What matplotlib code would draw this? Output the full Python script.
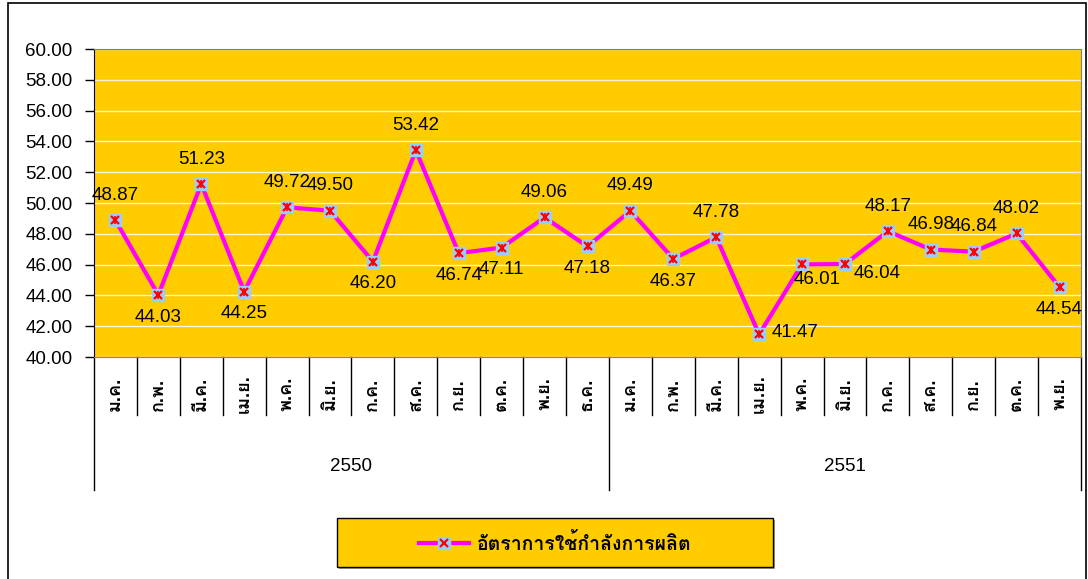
import matplotlib
matplotlib.use("Agg")
import matplotlib.pyplot as plt
from matplotlib import font_manager
from matplotlib.ft2font import FT2Font
from matplotlib.lines import Line2D
from matplotlib.patches import Rectangle
import matplotlib.transforms as mtransforms

# data
months_2550 = ['ม.ค.', 'ก.พ.', 'มี.ค.', 'เม.ย.', 'พ.ค.', 'มิ.ย.', 'ก.ค.', 'ส.ค.', 'ก.ย.', 'ต.ค.', 'พ.ย.', 'ธ.ค.']
months_2551 = ['ม.ค.', 'ก.พ.', 'มี.ค.', 'เม.ย.', 'พ.ค.', 'มิ.ย.', 'ก.ค.', 'ส.ค.', 'ก.ย.', 'ต.ค.', 'พ.ย.']
years = ['2550', '2551']
values_2550 = [48.87, 44.03, 51.23, 44.25, 49.72, 49.50, 46.20, 53.42, 46.74, 47.11, 49.06, 47.18]
values_2551 = [49.49, 46.37, 47.78, 41.47, 46.01, 46.04, 48.17, 46.98, 46.84, 48.02, 44.54]
series_name = 'อัตราการใช้กำลังการผลิต'

# where each data label sits (like Excel label positions)
label_pos = ['a', 'b', 'a', 'b', 'a', 'a', 'b', 'a', 'b', 'b', 'a', 'b',
             'a', 'b', 'a', 'r', 'br', 'r2', 'a', 'a', 'a', 'a', 'b']

# find a font that can draw Thai
thai_font = None
for f in font_manager.fontManager.ttflist:
    try:
        if 0x0E2D in FT2Font(f.fname).get_charmap():
            thai_font = f.name
            break
    except Exception:
        pass
families = ['Liberation Sans', 'DejaVu Sans']
if thai_font:
    families = ['Liberation Sans', thai_font, 'DejaVu Sans']
plt.rcParams['font.family'] = families

months = months_2550 + months_2551
values = values_2550 + values_2551
x = list(range(len(values)))

W, H = 1088, 579
fig = plt.figure(figsize=(W / 100, H / 100), dpi=100)
ax = fig.add_axes([94 / W, 1 - 357 / H, (1081 - 94) / W, (357 - 49) / H])
ax.set_facecolor('#FFCC00')

# outer chart border
fig.patches.append(Rectangle((8 / W, -0.01), (1086 - 8) / W, 1 - 3 / H + 0.01,
                             transform=fig.transFigure, fill=False, edgecolor='black', lw=1.2))

ax.set_xlim(-0.5, len(values) - 0.5)
ax.set_ylim(40, 60)
ax.set_yticks([40 + 2 * i for i in range(11)])
ax.yaxis.set_major_formatter(matplotlib.ticker.FormatStrFormatter('%.2f'))
ax.tick_params(axis='y', length=6.5, width=1, pad=9, labelsize=13.5, colors='black')
ax.set_xticks([])
ax.grid(axis='y', color='#FFF4D6', lw=1)
ax.set_axisbelow(True)
for s in ['top', 'right']:
    ax.spines[s].set_color('#808080')
ax.spines['left'].set_color('black')
ax.spines['bottom'].set_color('#B08800')

ax.plot(x, values, color='#FF00FF', lw=3, marker='s', ms=9, mfc='#99CCFF', mec='#99CCFF', zorder=3)
ax.plot(x, values, ls='none', marker='x', ms=5.5, mew=1.6, color='#FF0000', zorder=4)
ax.plot(x, values, ls='none', marker='|', ms=5.5, mew=1.2, color='#FF0000', zorder=4)

offsets = {'a': ((0, 18), 'center'), 'b': ((0, -16), 'center'), 'r': ((9, 1), 'left'),
           'br': ((11, -11), 'center'), 'r2': ((6, -7), 'left')}
for xi, v, p in zip(x, values, label_pos):
    off, ha = offsets[p]
    ax.annotate(f'{v:.2f}', (xi, v), xytext=off, textcoords='offset points',
                ha=ha, va='center', fontsize=13.5, zorder=5)

# two level category axis
trans = mtransforms.blended_transform_factory(ax.transData, ax.transAxes)
n1 = len(months_2550)
for i in range(len(values) + 1):
    xb = i - 0.5
    low = -0.432 if i in (0, n1, len(values)) else -0.188
    ax.add_line(Line2D([xb, xb], [0, low], transform=trans, color='black', lw=1, clip_on=False))
for xi, m in zip(x, months):
    ax.text(xi, -0.12, m, transform=trans, rotation=90, ha='center', va='center',
            fontsize=13, fontweight='bold', clip_on=False)
ax.text((n1 - 1) / 2, -0.357, years[0], transform=trans, ha='center', va='center', fontsize=13.5)
ax.text((n1 + len(values) - 1) / 2, -0.357, years[1], transform=trans, ha='center', va='center', fontsize=13.5)

# legend box
fig.patches.append(Rectangle((339 / W, 1 - 569 / H), 436 / W, 49 / H, transform=fig.transFigure,
                             facecolor='#A0A0A0', edgecolor='none'))
fig.patches.append(Rectangle((337 / W, 1 - 567 / H), 436 / W, 49 / H, transform=fig.transFigure,
                             facecolor='#FFCC00', edgecolor='black', lw=1))
h1 = Line2D([], [], color='#FF00FF', lw=3, marker='s', ms=9, mfc='#99CCFF', mec='#99CCFF')
h2 = Line2D([], [], ls='none', marker='x', ms=5.5, mew=1.6, color='#FF0000')
fig.legend([(h1, h2)], [series_name], loc='center', bbox_to_anchor=(555 / W, 1 - 543 / H),
           frameon=False, prop={'weight': 'bold', 'size': 14}, handlelength=2.6, handletextpad=0.4)

fig.savefig('out.png', dpi=100)
